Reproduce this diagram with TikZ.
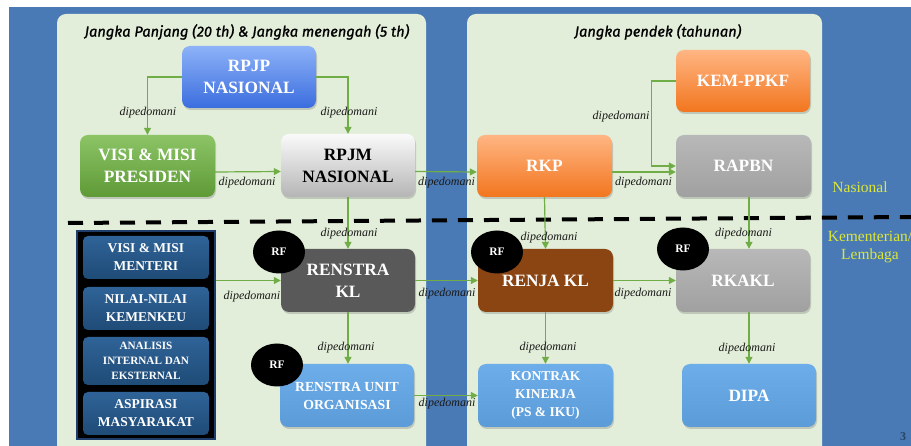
\documentclass[tikz,border=0pt]{standalone}
\usepackage{fontspec}
\setmainfont{Liberation Serif}
\newfontfamily\titlefont[ItalicFeatures={FakeBold=1.2}]{Fira Sans}
\usetikzlibrary{arrows.meta,shadows,shapes.geometric,calc}
\definecolor{bgblue}{HTML}{4A7AB5}
\definecolor{panelg}{HTML}{E2EED9}
\definecolor{lineg}{HTML}{70AD47}
\definecolor{rpjpT}{HTML}{8DB2F8}
\definecolor{rpjpB}{HTML}{3B6DDE}
\definecolor{visiT}{HTML}{8CC466}
\definecolor{visiB}{HTML}{5E9A36}
\definecolor{rpjmT}{HTML}{FAFAFA}
\definecolor{rpjmB}{HTML}{B5B5B5}
\definecolor{orT}{HTML}{FFB583}
\definecolor{orB}{HTML}{F2761E}
\definecolor{grT}{HTML}{B8B8B8}
\definecolor{grB}{HTML}{A0A0A0}
\definecolor{dkgr}{HTML}{595959}
\definecolor{brown}{HTML}{8B4513}
\definecolor{ltblT}{HTML}{6DAEEA}
\definecolor{ltblB}{HTML}{5B9BD8}
\definecolor{stT}{HTML}{2F6397}
\definecolor{stB}{HTML}{1F4B77}
\definecolor{stborder}{HTML}{1F3D6B}
\definecolor{sideyel}{HTML}{DCE63A}
\begin{document}
\begin{tikzpicture}[x=1pt,y=-1pt,
  box/.style={rounded corners=8pt, minimum width=134pt, minimum height=62pt,
    align=center, text=white, inner sep=2pt,
    font=\bfseries\fontsize{17.3}{22}\selectfont,
    drop shadow={opacity=0.35, shadow xshift=1pt, shadow yshift=-2pt}},
  sbox/.style={rounded corners=5pt, minimum width=126pt, minimum height=43pt,
    top color=stT, bottom color=stB, text=white, align=center, inner sep=1pt,
    font=\bfseries\fontsize{13.5}{18}\selectfont},
  conn/.style={draw=lineg, line width=1.2pt, -{Triangle[length=7pt,width=7pt]}},
  lab/.style={font=\itshape\fontsize{12}{12}\selectfont, text=black!90, inner sep=0pt},
  titl/.style={font=\titlefont\itshape\fontsize{14.6}{16}\selectfont, text=black, inner sep=0pt},
  rf/.style={ellipse, fill=black, minimum width=52pt, minimum height=43pt, text=white,
    inner sep=0pt, font=\bfseries\fontsize{11.5}{12}\selectfont},
  side/.style={text=sideyel, font=\fontsize{15.5}{18}\selectfont, align=center, inner sep=0pt}
]
\useasboundingbox (0,0) rectangle (911,446);
\clip (0,0) rectangle (911,446);
\fill[white] (0,0) rectangle (911,446);
\fill[bgblue] (9,7) rectangle (911,446);
\fill[panelg, rounded corners=9pt] (57,14) rectangle (426,470);
\fill[panelg, rounded corners=9pt] (467,14) rectangle (822,470);

% titles
\node[titl] (t1) at (247,32) {Jangka Panjang (20 th) \& Jangka menengah (5 th)};
\node[titl] (t2) at (658,32) {Jangka pendek (tahunan)};

% dashed separator
\coordinate (dl) at (68,223);
\coordinate (dr) at (911,217);
\draw[black, line width=4pt, dash pattern=on 15pt off 11pt] (dl) -- (dr);

% main boxes
\node[box, top color=rpjpT, bottom color=rpjpB] (rpjp) at (249,77) {RPJP\\NASIONAL};
\node[box, minimum width=135pt, top color=visiT, bottom color=visiB] (visi) at (147.5,166) {VISI \& MISI\\PRESIDEN};
\node[box, top color=rpjmT, bottom color=rpjmB, text=black, minimum height=63pt] (rpjm) at (348,165.5) {RPJM\\NASIONAL};
\node[box, minimum width=135pt, top color=orT, bottom color=orB] (rkp) at (544.5,166) {RKP};
\node[box, top color=orT, bottom color=orB] (kem) at (743,81) {KEM-PPKF};
\node[box, minimum width=135pt, top color=grT, bottom color=grB] (rapbn) at (743.5,166) {RAPBN};
\node[box, fill=dkgr, minimum height=63pt] (renstra) at (348,280.5) {RENSTRA\\KL};
\node[box, minimum width=135pt, fill=brown, minimum height=63pt] (renja) at (545.5,280.5) {RENJA KL};
\node[box, top color=grT, bottom color=grB, minimum height=63pt] (rkakl) at (743,280.5) {RKAKL};
\node[box, top color=ltblT, bottom color=ltblB, minimum height=63pt,
  font=\bfseries\fontsize{13.8}{18}\selectfont] (unit) at (347,395.5) {RENSTRA UNIT\\ORGANISASI};
\node[box, minimum width=135pt, top color=ltblT, bottom color=ltblB, minimum height=63pt,
  font=\bfseries\fontsize{13.5}{18}\selectfont] (kontrak) at (545.5,395.5) {KONTRAK\\KINERJA\\(PS \& IKU)};
\node[box, top color=ltblT, bottom color=ltblB, minimum height=63pt] (dipa) at (749,395.5) {DIPA};

% left stack
\node[draw=stborder, line width=1.5pt, fill=black, minimum width=138pt, minimum height=208pt, inner sep=0pt] (stack) at (146,335) {};
\node[sbox] (s1) at (146,257.5) {VISI \& MISI\\MENTERI};
\node[sbox] (s2) at (146,308.5) {NILAI-NILAI\\KEMENKEU};
\node[sbox, minimum height=48pt, font=\bfseries\fontsize{11.2}{15}\selectfont] (s3) at (146,361) {ANALISIS\\INTERNAL DAN\\EKSTERNAL};
\node[sbox] (s4) at (146,413.5) {ASPIRASI\\MASYARAKAT};

% connectors
\draw[conn] (rpjp.west) -| (visi.north);
\draw[conn] (rpjp.east) -| (rpjm.north);
\draw[conn] ([yshift=-6pt]visi.east) -- ([yshift=-6pt]rpjm.west);
\draw[conn] ([yshift=-6pt]rpjm.east) -- ([yshift=-6pt]rkp.west);
\draw[conn] ([yshift=-6pt]rkp.east) -- ([yshift=-6pt]rapbn.west);
\draw[conn] (kem.west) -- ++(-24,0) |- (rapbn.west);
\draw[conn] (rpjm.south) -- (renstra.north);
\draw[conn] (rkp.south) -- (renja.north);
\draw[conn] (rapbn.south -| dipa.north) -- (rkakl.north -| dipa.north);
\draw[conn] (renstra.west -| stack.east) -- (renstra.west);
\draw[conn] (renstra.east) -- (renja.west);
\draw[conn] (renja.east) -- (rkakl.west);
\draw[conn] (renstra.south) -- (renstra.south |- unit.north);
\draw[conn] (unit.east) -- (kontrak.west);
\draw[conn] (renja.south) -- (kontrak.north);
\draw[conn] (rkakl.south -| dipa.north) -- (dipa.north);

% labels
\node[lab] (l1) at (148,113) {dipedomani};
\node[lab] (l2) at (349,113) {dipedomani};
\node[lab] (l3) at (247,183) {dipedomani};
\node[lab] (l4) at (446.5,183) {dipedomani};
\node[lab] (l5) at (643.5,183) {dipedomani};
\node[lab] (l6) at (621,117) {dipedomani};
\node[lab] (l7) at (349,234) {dipedomani};
\node[lab] (l8) at (549,238) {dipedomani};
\node[lab] (l9) at (743.5,234) {dipedomani};
\node[lab] (l10) at (252,297) {dipedomani};
\node[lab] (l11) at (447,294) {dipedomani};
\node[lab] (l12) at (643,294) {dipedomani};
\node[lab] (l13) at (346,348) {dipedomani};
\node[lab] (l14) at (447,404) {dipedomani};
\node[lab] (l15) at (548,348) {dipedomani};
\node[lab] (l16) at (747,349) {dipedomani};

% RF marks
\node[rf] (rf1) at (279,252) {RF};
\node[rf] (rf2) at (277,365) {RF};
\node[rf] (rf3) at (497,252) {RF};
\node[rf] (rf4) at (683,249) {RF};

% side labels
\node[side] (nas) at (860,187) {Nasional};
\node[side] (kl) at (870,247) {Kementerian/\\Lembaga};
\node[text=black!45!bgblue, font=\bfseries\fontsize{12}{12}\selectfont, inner sep=0pt] (pg) at (903,437) {3};
\end{tikzpicture}
\end{document}
